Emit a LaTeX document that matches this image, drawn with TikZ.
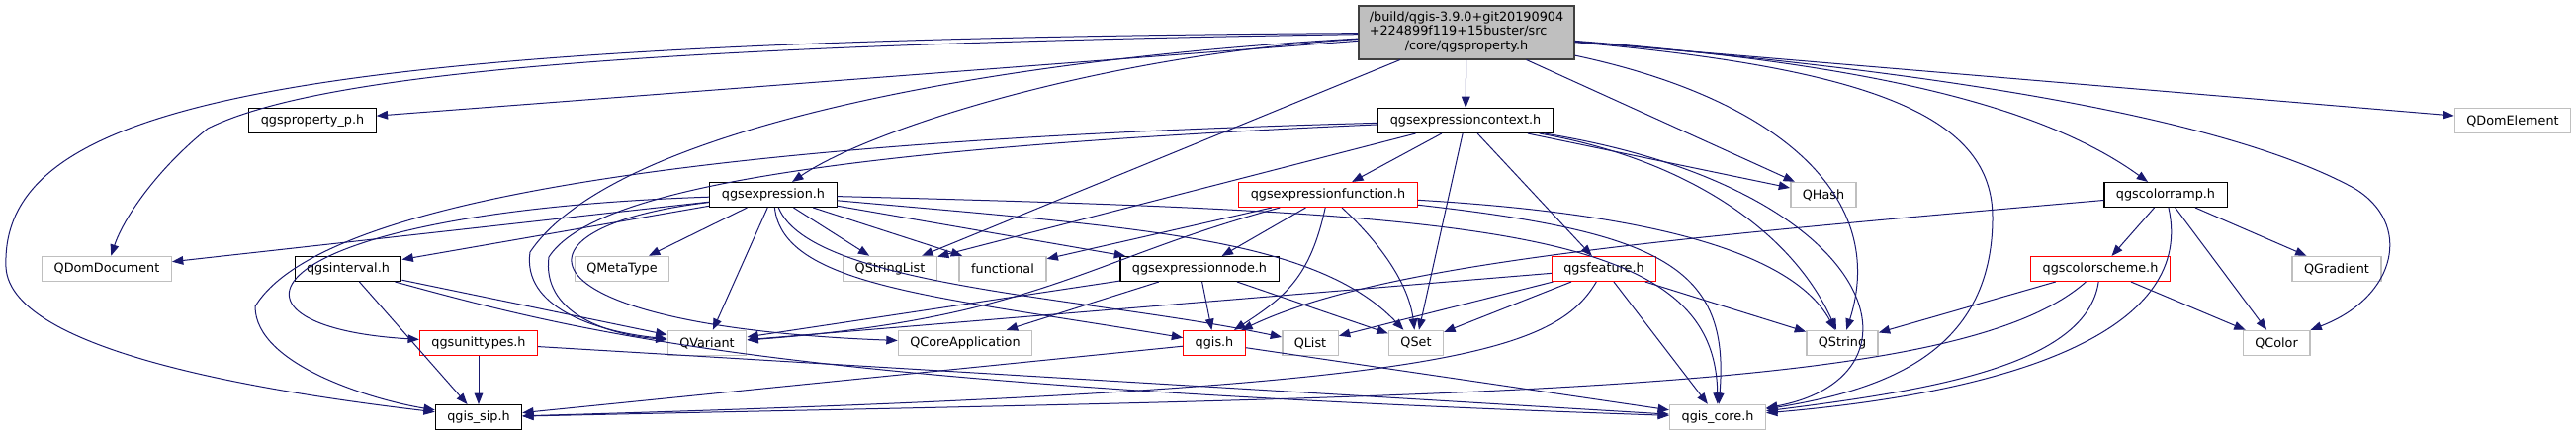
\documentclass[tikz,border=0pt]{standalone}
\usepackage{fontspec}
\setmainfont{DejaVu Sans}
\usetikzlibrary{arrows.meta}
\definecolor{depblue}{HTML}{191970}
\definecolor{rootfill}{HTML}{BFBFBF}
\definecolor{rootline}{HTML}{404040}
\definecolor{extline}{HTML}{BFBFBF}
\begin{document}
\begin{tikzpicture}[x=0.75pt,y=-0.75pt,
  every node/.style={font=\fontsize{9.6}{10.9}\selectfont},
  file/.style={draw,fill=white,line width=0.8pt,inner xsep=9pt,inner ysep=0pt,minimum height=18.75pt},
  rootfile/.style={file,draw=rootline,fill=rootfill,minimum width=163.5pt,minimum height=40.5pt,inner xsep=0pt},
  docfile/.style={file,draw=black},
  cutfile/.style={file,draw=red},
  extfile/.style={file,draw=extline,line width=1.1pt},
  dep/.style={depblue,line width=0.75pt,-{Triangle[length=8.5pt,width=6.5pt]}}]
\useasboundingbox (0,0) rectangle (2605,440);
% include graph of qgsproperty.h
\node[rootfile] (prop) at (1483,33) {\begin{tabular}{@{}l@{}}/build/qgis-3.9.0+git20190904\\+224899f119+15buster/src\\\multicolumn{1}{@{}c@{}}{/core/qgsproperty.h}\end{tabular}};
\node[docfile] (propp) at (316,122) {qgsproperty\_p.h};
\node[docfile] (ctx) at (1482,122) {qgsexpressioncontext.h};
\node[extfile] (domelem) at (2541,122) {QDomElement};
\node[docfile] (expr) at (782,197) {qgsexpression.h};
\node[cutfile] (func) at (1343,197) {qgsexpressionfunction.h};
\node[extfile] (hash) at (1844,197) {QHash};
\node[docfile] (ramp) at (2190,197) {qgscolorramp.h};
\node[extfile] (domdoc) at (108,272) {QDomDocument};
\node[docfile] (interval) at (352,272) {qgsinterval.h};
\node[extfile] (metatype) at (629,272) {QMetaType};
\node[extfile] (strlist) at (900,272) {QStringList};
\node[extfile] (functional) at (1014,272) {functional};
\node[docfile] (exprnode) at (1213,272) {qgsexpressionnode.h};
\node[cutfile] (feature) at (1622,272) {qgsfeature.h};
\node[cutfile] (scheme) at (2124,272) {qgscolorscheme.h};
\node[extfile] (gradient) at (2363,272) {QGradient};
\node[cutfile] (units) at (484,347) {qgsunittypes.h};
\node[extfile] (variant) at (715,347) {QVariant};
\node[extfile] (coreapp) at (976,347) {QCoreApplication};
\node[cutfile] (qgis) at (1228,347) {qgis.h};
\node[extfile] (list) at (1325,347) {QList};
\node[extfile] (set) at (1432,347) {QSet};
\node[extfile] (string) at (1863,347) {QString};
\node[extfile] (color) at (2302,347) {QColor};
\node[docfile] (sip) at (484,422) {qgis\_sip.h};
\node[extfile] (core) at (1737,422) {qgis\_core.h};
% straight includes
\foreach \u/\v in {prop/propp,prop/ctx,prop/strlist,prop/hash,prop/domelem,
  ctx/func,ctx/set,ctx/feature,ctx/strlist,ctx/hash,
  expr/domdoc,expr/interval,expr/metatype,expr/strlist,expr/functional,expr/exprnode,expr/variant,
  func/functional,func/exprnode,
  exprnode/variant,exprnode/coreapp,exprnode/qgis,exprnode/set,
  feature/variant,feature/list,feature/set,feature/string,feature/core,
  qgis/sip,qgis/core,interval/sip,interval/variant,units/sip,units/core,
  ramp/scheme,ramp/gradient,ramp/color,scheme/string,scheme/color}
  \draw[dep] (\u)--(\v);
% routed includes
\draw[dep] (prop) .. controls (1118,55) and (880,130) .. (expr);
\draw[dep] (prop) .. controls (700,45) and (330,70) .. (210,130) .. controls (160,170) and (125,220) .. (domdoc);
\draw[dep] (prop) .. controls (300,40) and (0,100) .. (6,270) .. controls (10,360) and (300,400) .. (sip);
\draw[dep] (prop) .. controls (1000,60) and (620,130) .. (536,255) .. controls (528,310) and (600,335) .. (variant);
\draw[dep] (prop) .. controls (1900,70) and (2015,120) .. (2015,220) .. controls (2015,360) and (1900,395) .. (core);
\draw[dep] (prop) .. controls (1800,100) and (1910,200) .. (string);
\draw[dep] (prop) .. controls (1900,65) and (2070,110) .. (ramp);
\draw[dep] (prop) .. controls (2000,75) and (2260,125) .. (2380,190) .. controls (2440,225) and (2425,300) .. (color);
\draw[dep] (ctx) .. controls (800,140) and (330,190) .. (258,310) .. controls (258,370) and (380,405) .. (sip);
\draw[dep] (ctx) .. controls (850,150) and (600,190) .. (555,260) .. controls (548,315) and (610,338) .. (variant);
\draw[dep] (ctx) .. controls (1700,160) and (1810,230) .. (string);
\draw[dep] (ctx) .. controls (1900,190) and (1960,380) .. (core);
\draw[dep] (expr) .. controls (250,215) and (200,330) .. (units);
\draw[dep] (expr) .. controls (500,230) and (520,330) .. (coreapp);
\draw[dep] (expr) .. controls (792,290) and (950,300) .. (qgis);
\draw[dep] (expr) .. controls (820,290) and (1100,300) .. (list);
\draw[dep] (expr) .. controls (1150,230) and (1330,240) .. (set);
\draw[dep] (expr) .. controls (1500,215) and (1735,230) .. (core);
\draw[dep] (func) .. controls (1100,262) and (1050,322) .. (variant);
\draw[dep] (func) .. controls (1325,280) and (1300,300) .. (qgis);
\draw[dep] (func) .. controls (1400,250) and (1425,290) .. (set);
\draw[dep] (func) .. controls (1650,215) and (1810,250) .. (string);
\draw[dep] (func) .. controls (1680,235) and (1750,270) .. (core);
\draw[dep] (ramp) .. controls (1700,240) and (1400,265) .. (qgis);
\draw[dep] (ramp) .. controls (2220,330) and (2050,395) .. (core);
\draw[dep] (scheme) .. controls (2110,370) and (1950,395) .. (core);
\draw[dep] (scheme) .. controls (1980,400) and (1500,400) .. (sip);
\draw[dep] (feature) .. controls (1570,360) and (1450,395) .. (sip);
\draw[dep] (interval) .. controls (600,340) and (800,390) .. (core);
\end{tikzpicture}
\end{document}
